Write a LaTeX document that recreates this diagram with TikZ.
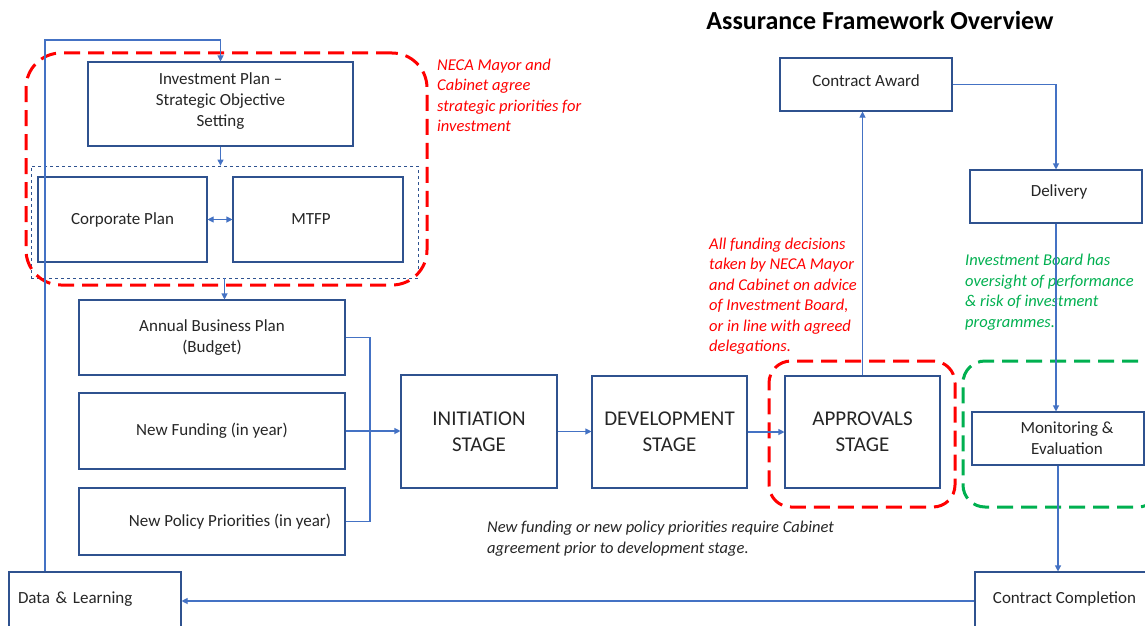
\documentclass[tikz,border=0pt]{standalone}
\usepackage{fontspec}
\setmainfont{Carlito}
\usetikzlibrary{arrows.meta,calc}
\definecolor{boxblue}{RGB}{47,82,143}
\definecolor{linkblue}{RGB}{68,114,196}
\definecolor{annred}{RGB}{255,0,0}
\definecolor{anngreen}{RGB}{0,176,80}
\newcommand{\upby}[2]{\raisebox{#1}[\height][\depth]{#2}}
\tikzset{
  box/.style={draw=boxblue, line width=1.1pt, fill=white, align=center, inner sep=4pt,
    font=\fontsize{17}{21}\selectfont, text=black!85},
  bigbox/.style={box, font=\fontsize{21}{26}\selectfont},
  conn/.style={draw=linkblue, line width=1.1pt, -{Triangle[length=6pt,width=6pt]}},
  plain/.style={draw=linkblue, line width=1.1pt},
  reddash/.style={draw=annred, line width=3pt, dash pattern=on 16pt off 8pt, rounded corners=#1},
  greendash/.style={draw=anngreen, line width=3pt, dash pattern=on 16pt off 8pt, rounded corners=#1},
  ann/.style={align=left, inner sep=0pt, anchor=west, font=\fontsize{16.5}{20.5}\selectfont\itshape},
}
\begin{document}
\begin{tikzpicture}[x=1pt,y=-1pt]
\clip (0,0) rectangle (1145,626);
\fill[white] (0,0) rectangle (1145,626);

% title
\node[font=\fontsize{26}{30}\selectfont\bfseries] (title) at (880,20) {Assurance Framework Overview};

% left group
\node[draw=boxblue, dashed, line width=0.8pt, minimum width=387pt, minimum height=112pt, inner sep=0pt] (grp) at (224.5,222) {};
\node[box, minimum width=265pt, minimum height=84pt] (inv) at (220.5,104) {\upby{3pt}{\begin{tabular}{@{}c@{}}Investment Plan --\\Strategic Objective\\Setting\end{tabular}}};
\node[box, minimum width=169pt, minimum height=85pt] (corp) at (122.5,219.5) {Corporate Plan};
\node[box, minimum width=170pt, minimum height=85pt] (mtfp) at (318,219.5) {MTFP\hspace*{14pt}};
\node[reddash=35pt, minimum width=401pt, minimum height=232pt, inner sep=0pt] (redA) at (226.5,169) {};

\node[box, minimum width=266pt, minimum height=75pt] (abp) at (212,337.5) {Annual Business Plan\\(Budget)};
\node[box, minimum width=266pt, minimum height=76pt] (nf) at (212,431) {New Funding (in year)};
\node[box, minimum width=266pt, minimum height=67pt] (npp) at (212,521.5) {\hspace*{36pt}New Policy Priorities (in year)};

% stages
\node[bigbox, minimum width=156pt, minimum height=113pt] (init) at (479,431.5) {INITIATION\\STAGE};
\node[bigbox, minimum width=155pt, minimum height=112pt] (dev) at (669.5,432) {DEVELOPMENT\\STAGE};
\node[bigbox, minimum width=155pt, minimum height=112pt] (appr) at (862.5,432) {APPROVALS\\STAGE};
\node[reddash=22pt, minimum width=186pt, minimum height=146pt, inner sep=0pt] (redB) at (862,434) {};

% right column
\node[box, minimum width=172pt, minimum height=53pt] (ca) at (866,84.5) {\upby{3.5pt}{Contract Award}};
\node[box, minimum width=172pt, minimum height=53pt] (del) at (1056,196.5) {\upby{5pt}{\hspace*{6pt}Delivery}};
\node[box, minimum width=172pt, minimum height=53pt] (mon) at (1058,438.5) {\hspace*{18pt}Monitoring \&\\\hspace*{18pt}Evaluation};
\node[greendash=22pt, minimum width=197pt, minimum height=146pt, inner sep=0pt] (grn) at (1061.5,434) {};
\node[box, minimum width=185pt, minimum height=58pt] (cc) at (1067.5,601) {\upby{2pt}{Contract Completion\hspace*{6pt}}};
\node[box, minimum width=172pt, minimum height=58pt, text width=154pt, align=left, inner xsep=9pt] (dl) at (95,601) {\upby{2pt}{Data \& Learning}};

% annotations
\node[ann, text=annred] (annA) at (437,95.5) {NECA Mayor and\\Cabinet agree\\strategic priorities for\\investment};
\node[ann, text=annred] (annB) at (709,296) {All funding decisions\\taken by NECA Mayor\\and Cabinet on advice\\of Investment Board,\\or in line with agreed\\delegations.};
\node[ann, text=anngreen] (annC) at (965,292) {Investment Board has\\oversight of performance\\\& risk of investment\\programmes.};
\node[ann, text=black!85] (annD) at (487,538.5) {New funding or new policy priorities require Cabinet\\agreement prior to development stage.};

% connectors
\coordinate (lt) at (45,40);
\draw[conn] (lt |- dl.north) -- (lt) -| (inv.north);
\draw[conn] (inv.south) -- (inv.south |- grp.north);
\draw[plain, {Triangle[length=6pt,width=6pt]}-{Triangle[length=6pt,width=6pt]}] (corp.east) -- (mtfp.west);
\draw[conn] (grp.south) -- (grp.south |- abp.north);
\coordinate (br) at (370,431);
\draw[plain] (abp.east) -- (abp.east -| br) -- (br |- npp.east) -- (npp.east);
\draw[conn] (nf.east) -- (nf.east -| init.west);
\draw[conn] (init.east) -- (init.east -| dev.west);
\draw[conn] (dev.east) -- (dev.east -| appr.west);
\draw[conn] (appr.north) -- (appr.north |- ca.south);
\draw[conn] (ca.east) -| (del.north);
\draw[conn] (del.south) -- (del.south |- mon.north);
\draw[conn] (mon.south) -- (mon.south |- cc.north);
\draw[conn] (cc.west) -- (cc.west -| dl.east);
\end{tikzpicture}
\end{document}
